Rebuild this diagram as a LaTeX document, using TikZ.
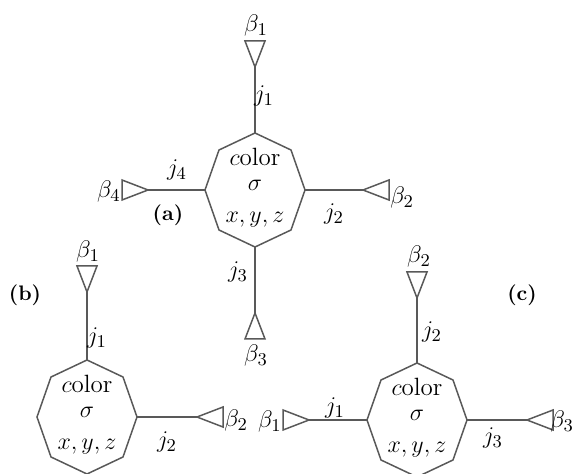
\documentclass[tikz,border=0pt]{standalone}
\begin{document}
\begin{tikzpicture}[x=0.5pt,y=-0.5pt,
  edge/.style={draw=black!65, line width=0.75pt, line join=miter},
  lbl/.style={font=\fontsize{12.5}{14}\selectfont, inner sep=0pt},
  inner/.style={font=\fontsize{12.5}{14}\selectfont, inner sep=0pt},
  tag/.style={font=\fontsize{10.5}{13}\selectfont\bfseries, inner sep=0pt},
  octa/.pic={
    \draw[edge] (0,-57) coordinate (-t) -- (36,-40) -- (50,0) coordinate (-r)
      -- (36,40) -- (0,57) coordinate (-b) -- (-36,40) -- (-50,0) coordinate (-l)
      -- (-36,-40) -- cycle;
    \node[inner] (-col) at (0,-33) {$c$olor};
    \node[inner] (-sig) at (0,-5) {$\sigma$};
    \node[inner] (-xyz) at (0,30) {$x,y,z$};
  },
  tri/.pic={
    \draw[edge] (0,0) coordinate (-tip) -- (26,10) -- (26,-10) -- cycle;
  }]
\useasboundingbox (0,0) rectangle (572,474);

% ---------- (a) ----------
\pic (A) at (255,190) {octa};
\pic[rotate=90]  (A1) at (255,67)  {tri};
\pic[rotate=0]   (A2) at (363,190) {tri};
\pic[rotate=-90] (A3) at (255,313) {tri};
\pic[rotate=180] (A4) at (148,190) {tri};
\draw[edge] (A-t) -- (A1-tip);
\draw[edge] (A-r) -- (A2-tip);
\draw[edge] (A-b) -- (A3-tip);
\draw[edge] (A-l) -- (A4-tip);
\node[lbl] (ab1) at (256,26)  {$\beta_1$};
\node[lbl] (aj1) at (264,96)  {$j_1$};
\node[lbl,anchor=west] (ab2) at (390,198) {$\beta_2$};
\node[lbl] (aj2) at (334,214) {$j_2$};
\node[lbl] (aj3) at (238,272) {$j_3$};
\node[lbl] (ab3) at (256,356) {$\beta_3$};
\node[lbl,anchor=east] (ab4) at (121,192) {$\beta_4$};
\node[lbl] (aj4) at (177,170) {$j_4$};
\node[tag] (atag) at (168,215) {(a)};

% ---------- (b) ----------
\pic (B) at (87,417) {octa};
\pic[rotate=90] (B1) at (87,292)  {tri};
\pic[rotate=0]  (B2) at (197,417) {tri};
\draw[edge] (B-t) -- (B1-tip);
\draw[edge] (B-r) -- (B2-tip);
\node[lbl] (bb1) at (88,252)  {$\beta_1$};
\node[lbl] (bj1) at (97,338)  {$j_1$};
\node[lbl,anchor=west] (bb2) at (224,421) {$\beta_2$};
\node[lbl] (bj2) at (167,442) {$j_2$};
\node[tag] (btag) at (25,295) {(b)};

% ---------- (c) ----------
\pic (C) at (417,420) {octa};
\pic[rotate=90]  (C2) at (417,298) {tri};
\pic[rotate=180] (C1) at (309,420) {tri};
\pic[rotate=0]   (C3) at (527,420) {tri};
\draw[edge] (C-t) -- (C2-tip);
\draw[edge] (C-l) -- (C1-tip);
\draw[edge] (C-r) -- (C3-tip);
\node[lbl] (cb2) at (419,257) {$\beta_2$};
\node[lbl] (cj2) at (432,332) {$j_2$};
\node[lbl,anchor=east] (cb1) at (282,422) {$\beta_1$};
\node[lbl] (cj1) at (335,408) {$j_1$};
\node[lbl,anchor=west] (cb3) at (550,422) {$\beta_3$};
\node[lbl] (cj3) at (493,438) {$j_3$};
\node[tag] (ctag) at (522,295) {(c)};
\end{tikzpicture}
\end{document}
